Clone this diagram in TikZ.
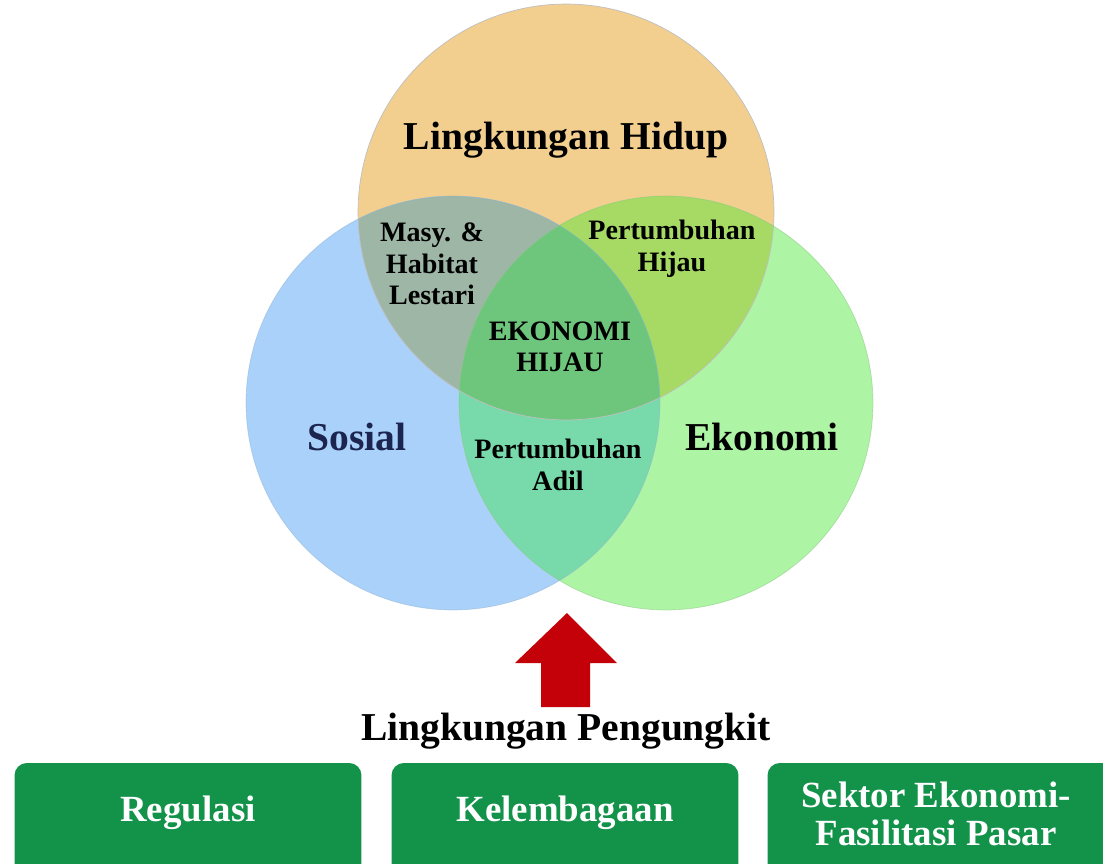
\documentclass[tikz,border=0pt]{standalone}
\usepackage{fontspec}
\setmainfont{Liberation Serif}
\usetikzlibrary{positioning}

\definecolor{lhOrange}{HTML}{F2CF8E}
\definecolor{sosBlue}{HTML}{A9D1F9}
\definecolor{ekoGreen}{HTML}{ADF4A4}
\definecolor{masyGray}{HTML}{9DB6A6}
\definecolor{hijauTR}{HTML}{A6DA64}
\definecolor{adilTeal}{HTML}{78DAAA}
\definecolor{ekhGreen}{HTML}{6EC67C}
\definecolor{boxGreen}{HTML}{13924A}
\definecolor{panahRed}{HTML}{C40009}
\definecolor{sosText}{HTML}{1B2550}

\tikzset{
  judul/.style={font=\bfseries\fontsize{22.5}{26}\selectfont},
  irisan/.style={font=\bfseries\fontsize{16}{18}\selectfont, align=center},
  kotak/.style={fill=boxGreen, rounded corners=7pt, minimum width=6.94cm, minimum height=2.4cm, inner sep=0pt},
  kotakteks/.style={font=\bfseries\fontsize{21}{22}\selectfont, text=white, align=center}
}

\begin{document}
\begin{tikzpicture}[x=0.02cm,y=-0.02cm]
  \useasboundingbox (0,0) rectangle (1103,863);
  \clip (0,0) rectangle (1103,863);

  \coordinate (T) at (566,212);
  \coordinate (L) at (453,403);
  \coordinate (R) at (666,403);

  \fill[lhOrange] (T) circle (4.16cm);
  \fill[sosBlue] (L) circle (4.14cm);
  \fill[ekoGreen] (R) circle (4.14cm);
  \begin{scope}
    \clip (T) circle (4.16cm);
    \fill[masyGray] (L) circle (4.14cm);
    \fill[hijauTR] (R) circle (4.14cm);
  \end{scope}
  \begin{scope}
    \clip (L) circle (4.14cm);
    \fill[adilTeal] (R) circle (4.14cm);
    \clip (T) circle (4.16cm);
    \fill[ekhGreen] (R) circle (4.14cm);
  \end{scope}
  \draw[black!25, line width=0.4pt] (T) circle (4.16cm);
  \draw[sosBlue!85!black, line width=0.4pt, opacity=0.5] (L) circle (4.14cm);
  \draw[ekoGreen!80!black, line width=0.4pt, opacity=0.5] (R) circle (4.14cm);

  \node[judul] (lh) at (566,140) {Lingkungan Hidup};
  \node[judul, text=sosText] (sos) at (357,437) {Sosial};
  \node[judul] (eko) at (762,437) {Ekonomi};
  \node[irisan] (masy) at (432,264) {Masy. \&\\Habitat\\Lestari};
  \node[irisan] (phijau) at (672,249) {Pertumbuhan\\Hijau};
  \node[irisan] (ekh) at (560,347) {EKONOMI\\HIJAU};
  \node[irisan] (padil) at (558,465) {Pertumbuhan\\Adil};

  \fill[panahRed] (567,613) -- (617,663) -- (590,663) -- (590,707)
    -- (541,707) -- (541,663) -- (515,663) -- cycle;

  \node[judul] (pengungkit) at (566,731) {Lingkungan Pengungkit};

  \node[kotak] (reg) at (188,823) {};
  \node[kotak] (lem) at (565,823) {};
  \node[kotak] (sek) at (941,823) {};
  \node[kotakteks] (regTxt) at (188,813) {Regulasi};
  \node[kotakteks] (lemTxt) at (565,813) {Kelembagaan};
  \node[kotakteks] (sekTxt) at (936,814) {Sektor Ekonomi-\\Fasilitasi Pasar};
\end{tikzpicture}
\end{document}
